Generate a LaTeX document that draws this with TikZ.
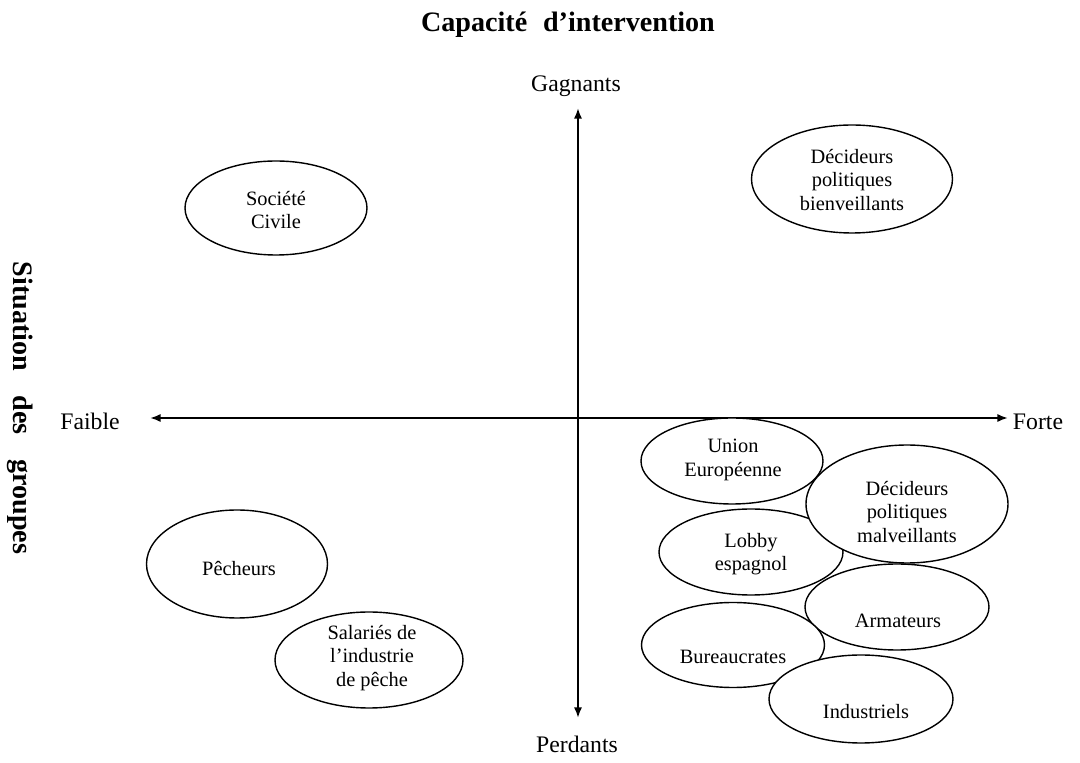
\documentclass[tikz,border=0pt]{standalone}
\usepackage{fontspec}
\setmainfont{Liberation Serif}
\usetikzlibrary{shapes.geometric,arrows.meta}

\begin{document}
\begin{tikzpicture}
[
	x=0.02cm, y=-0.02cm,
	grp/.style 2 args={ellipse,draw,fill=white,line width=0.8pt,inner sep=0pt,minimum width=#1*0.02cm,minimum height=#2*0.02cm},
	grptxt/.style={align=center,inner sep=0pt,font=\fontsize{11.6}{13.5}\selectfont},
	axislbl/.style={anchor=base,inner sep=0pt,font=\fontsize{13.5}{16}\selectfont},
	bigtitle/.style={anchor=base,inner sep=0pt,font=\fontsize{16}{19}\selectfont\bfseries},
	axisline/.style={line width=1.1pt,{Latex[length=6pt,width=4.6pt]}-{Latex[length=6pt,width=4.6pt]}}
]

	\useasboundingbox (0,0) rectangle (1080,763);

	% titles
	\node[bigtitle] (capa) at (568,32) {Capacité\hspace{9pt}d’intervention};
	\node[bigtitle,rotate=-90] (situ) at (13,408) {Situation\hspace{14pt}des\hspace{14pt}groupes};

	% axes
	\coordinate (west) at (150,418);
	\coordinate (east) at (1008,418);
	\coordinate (north) at (578,108);
	\coordinate (south) at (578,718);
	\draw[axisline] (west) -- (east);
	\draw[axisline] (north) -- (south);

	\node[axislbl] (faible) at (90,430) {Faible};
	\node[axislbl] (forte) at (1038,430) {Forte};
	\node[axislbl] (gagn) at (576,92) {Gagnants};
	\node[axislbl] (perd) at (577,753) {Perdants};

	% groups, top left and top right
	\node[grp={182}{94}] (soc) at (276,208) {};
	\node[grptxt] (soctxt) at (276,210) {Société\\Civile};

	\node[grp={201}{108}] (decb) at (852,179) {};
	\node[grptxt] (decbtxt) at (852,180) {Décideurs\\politiques\\bienveillants};

	% groups, bottom left
	\node[grp={181}{108}] (pech) at (237,564) {};
	\node[grptxt] (pechtxt) at (239,569) {Pêcheurs};

	\node[grp={188}{96}] (sal) at (369,660) {};
	\begin{scope}
		\clip (300,600) rectangle (450,697);
		\node[grptxt] (saltxt) at (372,658) {Salariés de\\l’industrie\\de pêche};
	\end{scope}

	% groups, bottom right
	\node[grp={182}{86}] (ue) at (732,461) {};
	\node[grptxt] (uetxt) at (733,460) {Union\\Européenne};

	\node[grp={184}{86}] (lobby) at (751,552) {};
	\node[grptxt] (lobbytxt) at (751,554) {Lobby\\espagnol};

	\node[grp={202}{118}] (decm) at (907,504) {};
	\node[grptxt] (decmtxt) at (907,512) {Décideurs\\politiques\\malveillants};

	\node[grp={184}{86}] (arm) at (897,607) {};
	\node[grptxt] (armtxt) at (898,621) {Armateurs};

	\node[grp={183}{85}] (bur) at (733,645) {};
	\node[grptxt] (burtxt) at (733,657) {Bureaucrates};

	\node[grp={184}{88}] (ind) at (861,699) {};
	\node[grptxt] (indtxt) at (866,712) {Industriels};

\end{tikzpicture}
\end{document}
